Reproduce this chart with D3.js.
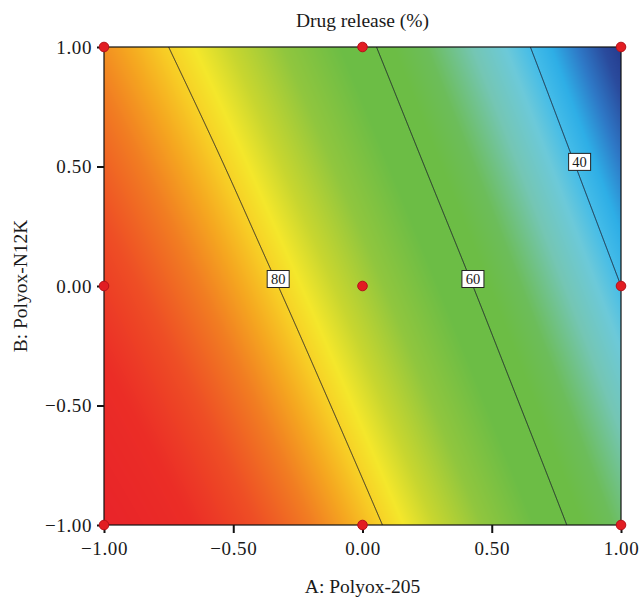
<!DOCTYPE html>
<html>
<head>
<meta charset="utf-8">
<script src="https://cdn.jsdelivr.net/npm/d3@7"></script>
<style>
  html, body { margin: 0; padding: 0; background: #fff; }
  svg { display: block; }
  text { font-family: "Liberation Serif", "DejaVu Serif", serif; fill: #1a1a1a; }
</style>
</head>
<body>
<svg id="chart" width="641" height="598"></svg>
<script>
// ---- data ----
const aLevels = [-1, -0.75, -0.5, -0.25, 0, 0.25, 0.5, 0.75, 1];   // A: Polyox-205
const bLevels = [1, 0.5, 0, -0.5, -1];                               // B: Polyox-N12K (rows)
const releaseRowB1    = [84.6, 80.0, 74.7, 68.5, 61.6, 53.9, 45.4, 36.2, 26.1];
const releaseRowB05   = [88.4, 84.2, 79.3, 73.5, 67.0, 59.7, 51.7, 42.8, 33.2];
const releaseRowB0    = [91.9, 88.1, 83.6, 78.3, 72.2, 65.3, 57.7, 49.2, 40.0];
const releaseRowBm05  = [95.2, 91.8, 87.7, 82.8, 77.1, 70.6, 63.4, 55.4, 46.6];
const releaseRowBm1   = [98.2, 95.3, 91.5, 87.1, 81.8, 75.7, 68.9, 61.3, 52.9];
const release = [releaseRowB1, releaseRowB05, releaseRowB0, releaseRowBm05, releaseRowBm1];
const contourLevels = [80, 60, 40];
const contourLabelB = [0, 0, 0.49];
const designA = [-1, 0, 1, -1, 0, 1, -1, 0, 1];
const designB = [1, 1, 1, 0, 0, 0, -1, -1, -1];
const xTicks = [-1, -0.5, 0, 0.5, 1];
const yTicks = [-1, -0.5, 0, 0.5, 1];
const title = "Drug release (%)";
const xTitle = "A: Polyox-205";
const yTitle = "B: Polyox-N12K";

// ---- layout ----
const L = 104, R = 621, T = 47, B = 525;
const svg = d3.select("#chart");
const x = d3.scaleLinear().domain([-1, 1]).range([L, R]);
const y = d3.scaleLinear().domain([-1, 1]).range([B, T]);

const colorStops = [26, 29, 33, 37, 40, 43.5, 48, 54, 58, 64, 70, 75, 78, 80.5, 83, 86, 90, 94, 99];
const colorRange = ["#243a8c", "#2a4b9d", "#2e78c6", "#2eaee6", "#44bce8", "#6cc9d9", "#74c6b4",
  "#6cbd5a", "#6cbd45", "#6cbd45", "#90c63e", "#c8d62f", "#f4e72b", "#f7cc25", "#f5a820",
  "#f17d22", "#ee4e25", "#eb2d26", "#e8222a"];
const color = d3.scaleLinear().domain(colorStops).range(colorRange).clamp(true);

const ia = d3.scaleLinear().domain([aLevels[0], aLevels[aLevels.length - 1]]).range([0, aLevels.length - 1]);
const jb = d3.scaleLinear().domain([bLevels[0], bLevels[bLevels.length - 1]]).range([0, bLevels.length - 1]);

// smooth (Catmull-Rom) interpolation of the grid, for drawing only
function getP(arr, k) {
  const n = arr.length;
  if (k < 0) return 3 * arr[0] - 3 * arr[1] + arr[2];
  if (k > n - 1) return 3 * arr[n - 1] - 3 * arr[n - 2] + arr[n - 3];
  return arr[k];
}
function cr(p0, p1, p2, p3, t) {
  return 0.5 * ((2 * p1) + (-p0 + p2) * t + (2 * p0 - 5 * p1 + 4 * p2 - p3) * t * t +
    (-p0 + 3 * p1 - 3 * p2 + p3) * t * t * t);
}
function interp1(arr, f) {
  const n = arr.length;
  const i = Math.max(0, Math.min(n - 2, Math.floor(f)));
  const t = f - i;
  return cr(getP(arr, i - 1), getP(arr, i), getP(arr, i + 1), getP(arr, i + 2), t);
}
function surf(a, b) {
  const fi = ia(a), fj = jb(b);
  const col = release.map(row => interp1(row, fi));
  return interp1(col, fj);
}

// ---- surface raster ----
const W = R - L, H = B - T;
const canvas = document.createElement("canvas");
canvas.width = W; canvas.height = H;
const ctx = canvas.getContext("2d");
const img = ctx.createImageData(W, H);
for (let py = 0; py < H; py++) {
  const bv = y.invert(T + py + 0.5);
  for (let px = 0; px < W; px++) {
    const av = x.invert(L + px + 0.5);
    const c = d3.rgb(color(surf(av, bv)));
    const k = (py * W + px) * 4;
    img.data[k] = c.r; img.data[k + 1] = c.g; img.data[k + 2] = c.b; img.data[k + 3] = 255;
  }
}
ctx.putImageData(img, 0, 0);
svg.append("image").attr("x", L).attr("y", T).attr("width", W).attr("height", H)
  .attr("preserveAspectRatio", "none").attr("href", canvas.toDataURL());

// ---- contour lines ----
function solveA(level, b) {
  let lo = -1, hi = 1;
  const vlo = surf(lo, b), vhi = surf(hi, b);
  if (level > vlo || level < vhi) return null;
  for (let it = 0; it < 40; it++) {
    const m = (lo + hi) / 2;
    if (surf(m, b) > level) lo = m; else hi = m;
  }
  return (lo + hi) / 2;
}
const line = d3.line().x(d => x(d[0])).y(d => y(d[1]));
const bSamples = d3.range(0, 961).map(k => 1 - k / 480);
contourLevels.forEach((lev, n) => {
  const pts = [];
  bSamples.forEach(b => { const a = solveA(lev, b); if (a !== null) pts.push([a, b]); });
  svg.append("path").attr("d", line(pts)).attr("fill", "none")
    .attr("stroke", "#1a1a2a").attr("stroke-width", 0.9);
});

// ---- frame ----
svg.append("rect").attr("x", L).attr("y", T).attr("width", W).attr("height", H)
  .attr("fill", "none").attr("stroke", "#111").attr("stroke-width", 1.2);

// ---- contour labels ----
contourLevels.forEach((lev, n) => {
  const b = contourLabelB[n];
  const a = solveA(lev, b);
  const cx = x(a) + (lev === 40 ? 3 : 0), cy = y(b);
  const g = svg.append("g").attr("transform", `translate(${cx},${cy - 7})`);
  g.append("rect").attr("x", -11).attr("y", -8.5).attr("width", 22).attr("height", 17)
    .attr("fill", "#fff").attr("stroke", "#222").attr("stroke-width", 1);
  g.append("text").attr("text-anchor", "middle").attr("y", 5).attr("font-size", 14.5).text(lev);
});

// ---- axes ----
const fmt = d => d3.format(".2f")(d).replace("-", "\u2212");
const xAxis = d3.axisBottom(x).tickValues(xTicks).tickFormat(fmt).tickSize(8).tickPadding(5);
const yAxis = d3.axisLeft(y).tickValues(yTicks).tickFormat(fmt).tickSize(7).tickPadding(5);
const gx = svg.append("g").attr("transform", `translate(0,${B})`).call(xAxis);
const gy = svg.append("g").attr("transform", `translate(${L},0)`).call(yAxis);
[gx, gy].forEach(g => {
  g.select(".domain").remove();
  g.selectAll(".tick line").attr("stroke", "#111").attr("stroke-width", 2);
  g.selectAll(".tick text").attr("font-size", 19).attr("fill", "#1a1a1a")
    .style("font-family", "'Liberation Serif', serif").attr("letter-spacing", 0.6);
});
gx.selectAll(".tick text").attr("dy", "0.9em");

// ---- design points ----
svg.selectAll("circle.pt").data(designA.map((a, i) => [a, designB[i]])).enter()
  .append("circle").attr("class", "pt")
  .attr("cx", d => x(d[0])).attr("cy", d => y(d[1])).attr("r", 4.8)
  .attr("fill", "#e21d22").attr("stroke", "#b5121a").attr("stroke-width", 1);

// ---- titles ----
svg.append("text").attr("x", (L + R) / 2).attr("y", 27).attr("text-anchor", "middle")
  .attr("font-size", 19.5).text(title);
svg.append("text").attr("x", (L + R) / 2).attr("y", 593).attr("text-anchor", "middle")
  .attr("font-size", 19.5).text(xTitle);
svg.append("text").attr("transform", `translate(27,${(T + B) / 2}) rotate(-90)`)
  .attr("text-anchor", "middle").attr("font-size", 19.5).text(yTitle);
</script>
</body>
</html>
